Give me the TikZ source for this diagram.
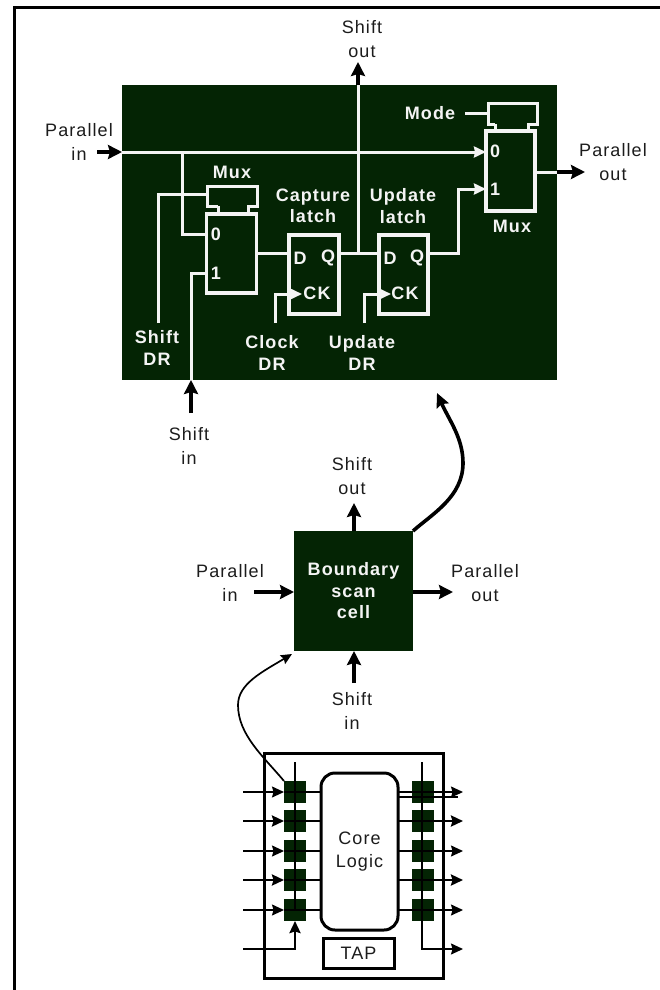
\documentclass[tikz,border=0pt]{standalone}
\usepackage{fontspec}
\setmainfont{Liberation Sans}
\newfontfamily\platefont[LetterSpace=6]{Liberation Sans}
\usepackage{xcolor}
\usetikzlibrary{arrows.meta,positioning,calc}
\definecolor{ink}{HTML}{1C1C1C}
\definecolor{cellgreen}{HTML}{042404}
\definecolor{wirewhite}{HTML}{F4F4F4}
\tikzset{
  every picture/.style={x=1pt, y=-1pt, line join=miter},
  block/.style={fill=cellgreen, inner sep=0pt, outer sep=0pt, align=center, text=wirewhite, font=\bigbold},
  frame/.style={draw=wirewhite, line width=3.2pt, inner sep=0pt, outer sep=0pt},
  cover/.style={inner sep=0pt, outer sep=0pt},
  plain/.style={font=\bigplain, text=ink, align=center, inner sep=0pt},
  onpanel/.style={font=\bigbold, text=wirewhite, align=center, inner sep=0pt},
  wire/.style={draw=wirewhite, line width=3pt},
  wirehead/.style={wire, -{Stealth[length=12pt,width=11pt,inset=1pt]}},
  flow/.style={draw=black, line width=3.6pt, -{Stealth[length=14pt,width=14pt,inset=2pt]}},
  chipflow/.style={draw=black, -{Stealth[length=12pt,width=11pt,inset=1.5pt]}},
  chipbox/.style={draw=black, fill=white, line width=3pt, inner sep=0pt, outer sep=0pt, align=center, font=\bigplain, text=ink},
  chipcell/.style={fill=cellgreen, minimum width=22pt, minimum height=22pt, inner sep=0pt, outer sep=0pt},
}
\newcommand{\bigbold}{\fontsize{18}{21.5}\platefont\bfseries}
\newcommand{\bigplain}{\fontsize{18}{23.5}\platefont}
\begin{document}
\begin{tikzpicture}
\useasboundingbox (0,0) rectangle (660,990);
\coordinate (frameb) at (14.5,995);
\coordinate (framec) at (14.5,8);
\coordinate (framer) at (665,8);
\draw[black, line width=3pt] (frameb) -- (framec) -- (framer);
% detail panel
\node[block, minimum width=435pt, minimum height=295pt] (panel) at (339.5,232.5) {};
\node[frame, minimum width=50pt, minimum height=79pt] (muxl) at (231.5,253.5) {};
\node[frame, minimum width=49pt, minimum height=80pt] (muxr) at (510.5,171) {};
\node[frame, minimum width=50pt, minimum height=79pt] (capture) at (314,274.5) {};
\node[frame, minimum width=49pt, minimum height=79pt] (update) at (403.5,274.5) {};
\node[cover, minimum width=50pt, minimum height=20pt] (capl) at (232,196) {};
\node[cover, minimum width=30pt, minimum height=8pt] (tabl) at (233,210) {};
\node[cover, minimum width=49pt, minimum height=21pt] (capr) at (512.5,113.5) {};
\node[cover, minimum width=33pt, minimum height=7pt] (tabr) at (511.5,127.5) {};
\foreach \c/\t in {capl/tabl, capr/tabr}
  \draw[wire] (\t.north west) -- (\c.south west) |- (\c.north east) -- (\c.south east) -- (\t.north east) -- (\t.south east) (\t.north west) -- (\t.south west);
\node[onpanel] (muxltext) at (232,172) {Mux};
\node[onpanel] (muxrtext) at (512,226) {Mux};
\node[onpanel] (modetext) at (430,113) {Mode};
\node[onpanel] (capturetext) at (313,206) {Capture\\latch};
\node[onpanel] (updatetext) at (403,206) {Update\\latch};
\node[onpanel] (shiftdr) at (157,348) {Shift\\DR};
\node[onpanel] (clockdr) at (272,353) {Clock\\DR};
\node[onpanel] (updatedr) at (362,353) {Update\\DR};
\foreach \n/\x/\y/\s in {a/216/234/0, b/216/273/1, c/495/151/0, d/495/189/1, e/300/258/D, f/328/258/Q, g/390/258/D, h/417/258/Q, i/317/293/CK, j/405/293/CK}
  \node[onpanel] (pin\n) at (\x,\y) {\s};
\coordinate (parjoin) at (182,152);
\coordinate (shiftdrtop) at (158,194);
\coordinate (shiftdrend) at (158,323);
\coordinate (shiftintop) at (191,273);
\coordinate (shiftout) at (358,253);
\coordinate (updateout) at (458,253);
\coordinate (clockend) at (275,323);
\coordinate (updateend) at (364,323);
\coordinate (muxrout) at (535,172);
\draw[wirehead] (panel.west |- parjoin) -- (muxr.west |- parjoin);
\draw[wire] (parjoin) |- (muxl.west |- pina);
\draw[wire] (shiftdrend) -- (shiftdrtop) -- (capl.west |- shiftdrtop);
\draw[wire] (panel.south -| shiftintop) -- (shiftintop) -- (muxl.west |- shiftintop);
\draw[wire] (muxl.east |- shiftout) -- (capture.west |- shiftout);
\draw[wire] (capture.east |- shiftout) -- (update.west |- shiftout);
\draw[wire] (shiftout) -- (panel.north -| shiftout);
\draw[wirehead] (update.east |- updateout) -- (updateout) |- (muxr.west |- pind);
\draw[wire] (capr.west |- modetext) ++(-23,0) -- (capr.west |- modetext);
\draw[wirehead] (clockend) |- (302,294);
\draw[wirehead] (updateend) |- (391,294);
\draw[wire] (muxrout) -- (panel.east |- muxrout);
\coordinate (paroutone) at (585,172);
\draw[flow] (panel.east |- muxrout) -- (paroutone);
% outer labels of the panel
\node[plain] (parintop) at (79,142) {Parallel\\in};
\node[plain] (parouttop) at (613,162) {Parallel\\out};
\node[plain] (shiftouttop) at (362,39) {Shift\\out};
\node[plain] (shiftintop2) at (189,446) {Shift\\in};
\coordinate (parinstart) at (97,152);
\coordinate (shiftoutend) at (358,62);
\coordinate (shiftinstart) at (191,413);
\draw[flow] (parinstart) -- (panel.west |- parinstart);
\draw[flow] (panel.north -| shiftoutend) -- (shiftoutend);
\draw[flow] (shiftinstart) -- (panel.south -| shiftinstart);
% boundary scan cell
\node[block, minimum width=119pt, minimum height=120pt] (cell) at (353.5,591) {Boundary\\scan\\cell};
\node[plain] (cellshiftout) at (352,476) {Shift\\out};
\node[plain] (cellshiftin) at (352,711) {Shift\\in};
\node[plain] (cellparin) at (230,583) {Parallel\\in};
\node[plain] (cellparout) at (485,583) {Parallel\\out};
\coordinate (parinend) at (254,592);
\coordinate (paroutend) at (453,592);
\coordinate (soutend) at (354,503);
\coordinate (sinstart) at (354,683);
\draw[flow] (parinend) -- (cell.west |- parinend);
\draw[flow] (cell.east |- paroutend) -- (paroutend);
\draw[flow] (cell.north -| soutend) -- (soutend);
\draw[flow] (sinstart) -- (cell.south -| sinstart);
\coordinate (tipa) at (437,393);
\draw[black, line width=3.6pt, -{Stealth[length=14pt,width=13pt,inset=2pt]}] (cell.north east) .. controls (432,514) and (463,497) .. (463,463) .. controls (463,438) and (449,420) .. (tipa);
% chip
\node[chipbox, minimum width=179pt, minimum height=225pt] (chip) at (353.5,865.5) {};
\node[chipbox, rounded corners=14pt, minimum width=77pt, minimum height=157pt] (core) at (359.5,851.5) {Core\\Logic};
\node[chipbox, minimum width=71pt, minimum height=30pt] (tap) at (358.5,953) {TAP};
\foreach \r/\yy/\w in {1/792/1.4, 2/821/2.6, 3/851/1.4, 4/880/2.6, 5/910/1.4} {
  \node[chipcell] (lcell\r) at (295,\yy) {};
  \node[chipcell] (rcell\r) at (422.5,\yy) {};
  \coordinate (in\r) at (243,\yy);
  \coordinate (out\r) at (463,\yy);
  \draw[chipflow, line width=\w pt] (in\r) -- (lcell\r.west);
  \draw[black, line width=\w pt] (lcell\r.west) -- (core.west |- lcell\r);
  \draw[chipflow, line width=\w pt] (core.east |- rcell\r) -- (out\r);
}
\coordinate (doublea) at (398,797);
\coordinate (doubleb) at (458,797);
\draw[black, line width=1.6pt] (doublea) -- (doubleb);
\coordinate (ltop) at (295,762);
\coordinate (rtop) at (422,762);
\coordinate (lbot) at (243,949);
\coordinate (rbot) at (463,949);
\draw[black, line width=1.3pt] (ltop) -- (lcell5.center);
\draw[chipflow, line width=2.6pt] (lbot) -| (lcell5.south);
\draw[chipflow, line width=1.4pt] (rtop) |- (rbot);
\coordinate (tipb) at (292,654);
\draw[black, line width=1.7pt, -{Stealth[length=11pt,width=10pt,inset=1.5pt]}] (lcell1.north west) .. controls (264,757) and (238,735) .. (238,705) .. controls (238,684) and (262,672) .. (tipb);
\end{tikzpicture}
\end{document}
